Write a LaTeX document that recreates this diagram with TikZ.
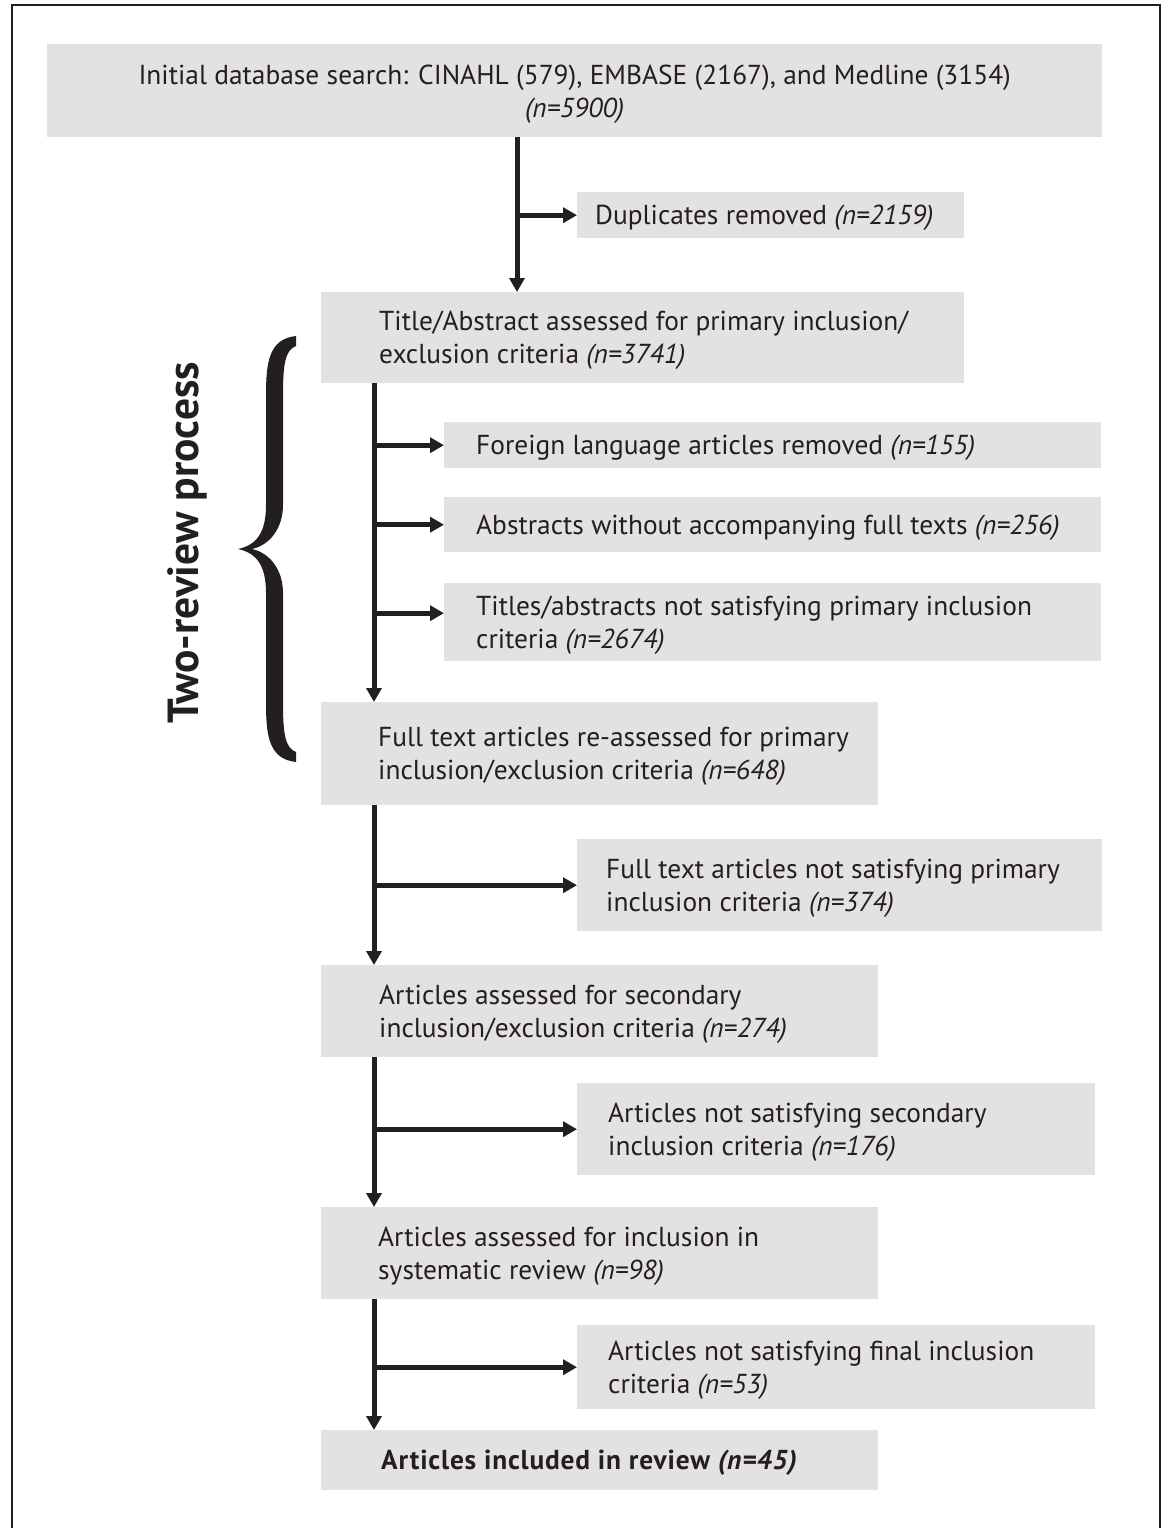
\documentclass[tikz,border=0pt]{standalone}
\usepackage{fontspec}
\setmainfont{PT Sans}
\usetikzlibrary{arrows.meta}
\definecolor{boxgray}{RGB}{227,225,226}
\definecolor{ink}{RGB}{35,31,32}
\begin{document}
\begin{tikzpicture}[x=1pt,y=-1pt,
  box/.style={fill=boxgray, draw=none, inner sep=0pt, anchor=north west},
  lbl/.style={anchor=west, align=left, inner sep=0pt, text=ink, yshift=-3pt,
    font=\fontsize{27.4}{33}\selectfont},
  flow/.style={draw=ink, line width=5pt, -{Triangle[length=14pt,width=15pt]}}]
\useasboundingbox (0,0) rectangle (1165,1528);
\draw[ink, line width=2pt] (12,1540) -- (12,5) -- (1160,5) -- (1160,1540);

% boxes
\node[box, minimum width=1055pt, minimum height=93pt]  (b1)  at (47,44) {};
\node[box, minimum width=387pt,  minimum height=46pt]  (b2)  at (577,192) {};
\node[box, minimum width=643pt,  minimum height=91pt]  (b3)  at (321,292) {};
\node[box, minimum width=657pt,  minimum height=46pt]  (b4)  at (444,422) {};
\node[box, minimum width=657pt,  minimum height=55pt]  (b5)  at (444,497) {};
\node[box, minimum width=657pt,  minimum height=78pt]  (b6)  at (444,583) {};
\node[box, minimum width=557pt,  minimum height=103pt] (b7)  at (321,702) {};
\node[box, minimum width=525pt,  minimum height=92pt]  (b8)  at (577,839) {};
\node[box, minimum width=557pt,  minimum height=92pt]  (b9)  at (321,965) {};
\node[box, minimum width=518pt,  minimum height=92pt]  (b10) at (577,1083) {};
\node[box, minimum width=557pt,  minimum height=92pt]  (b11) at (321,1207) {};
\node[box, minimum width=518pt,  minimum height=84pt]  (b12) at (577,1325) {};
\node[box, minimum width=557pt,  minimum height=60pt]  (b13) at (321,1430) {};

% texts
\node[lbl, anchor=center, align=center] (t1) at ([yshift=-1pt]b1.center)
  {Initial database search: CINAHL (579), EMBASE (2167), and Medline (3154)\\ \textit{(n=5900)}};
\node[lbl] (t2) at ([xshift=18pt]b2.west) {Duplicates removed \textit{(n=2159)}};
\node[lbl] (t3) at ([xshift=58pt]b3.west) {Title/Abstract assessed for primary inclusion/\\exclusion criteria \textit{(n=3741)}};
\node[lbl] (t4) at ([xshift=32pt]b4.west) {Foreign language articles removed \textit{(n=155)}};
\node[lbl] (t5) at ([xshift=32pt]b5.west) {Abstracts without accompanying full texts \textit{(n=256)}};
\node[lbl] (t6) at ([xshift=32pt]b6.west) {Titles/abstracts not satisfying primary inclusion\\criteria \textit{(n=2674)}};
\node[lbl] (t7) at ([xshift=57pt]b7.west) {Full text articles re-assessed for primary\\inclusion/exclusion criteria \textit{(n=648)}};
\node[lbl] (t8) at ([xshift=29pt]b8.west) {Full text articles not satisfying primary\\inclusion criteria \textit{(n=374)}};
\node[lbl] (t9) at ([xshift=58pt]b9.west) {Articles assessed for secondary\\inclusion/exclusion criteria \textit{(n=274)}};
\node[lbl] (t10) at ([xshift=31pt]b10.west) {Articles not satisfying secondary\\inclusion criteria \textit{(n=176)}};
\node[lbl] (t11) at ([xshift=57pt]b11.west) {Articles assessed for inclusion in\\systematic review \textit{(n=98)}};
\node[lbl] (t12) at ([xshift=31pt]b12.west) {Articles not satisfying final inclusion\\criteria \textit{(n=53)}};
\node[lbl] (t13) at ([xshift=60pt]b13.west) {\bfseries\addfontfeature{LetterSpace=3}Articles included in review \textit{(n=45)}};

% side label
\node[rotate=90, text=ink, inner sep=0pt, font=\fontsize{43.5}{46}\selectfont\bfseries] (side) at (187,543) {Two-review process};

% brace
\fill[ink] (296,336) .. controls (269,339) and (266,362) .. (266,395)
  -- (266,505) .. controls (266,532) and (257,545) .. (238,549)
  .. controls (257,553) and (266,566) .. (266,593)
  -- (266,703) .. controls (266,736) and (269,759) .. (296,762)
  -- (296,752) .. controls (285,748) and (283,733) .. (283,703)
  -- (283,593) .. controls (283,570) and (270,553) .. (252,549)
  .. controls (270,545) and (283,528) .. (283,505)
  -- (283,395) .. controls (283,365) and (285,350) .. (296,346) -- cycle;

% connectors
\coordinate (c1) at (517,0);
\coordinate (c2) at (374,0);
\draw[flow] (b1.south -| c1) -- (b3.north -| c1);
\draw[flow] (b2.west -| c1) -- (b2.west);

\draw[flow] (b3.south -| c2) -- (b7.north -| c2);
\draw[flow] (b4.west -| c2) -- (b4.west);
\draw[flow] (b5.west -| c2) -- (b5.west);
\draw[flow] ([yshift=9pt]b6.west -| c2) -- ([yshift=9pt]b6.west);

\draw[flow] (b7.south -| c2) -- (b9.north -| c2);
\draw[flow] (b8.west -| c2) -- (b8.west);

\draw[flow] (b9.south -| c2) -- (b11.north -| c2);
\draw[flow] (b10.west -| c2) -- (b10.west);

\draw[flow] (b11.south -| c2) -- (b13.north -| c2);
\draw[flow] (b12.west -| c2) -- (b12.west);
\end{tikzpicture}
\end{document}
